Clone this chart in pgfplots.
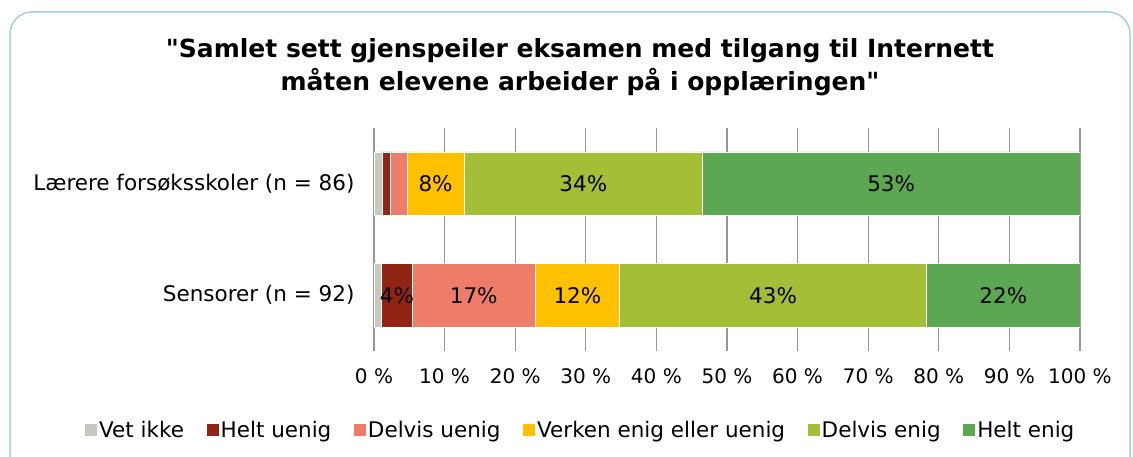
\documentclass[border=0pt]{standalone}
\usepackage{pgfplots}
\pgfplotsset{compat=1.18}
\usepackage{fontspec}
\setmainfont{DejaVu Sans}

\definecolor{vetikke}{RGB}{200,200,190}
\definecolor{heltuenig}{RGB}{146,36,22}
\definecolor{delvisuenig}{RGB}{237,125,104}
\definecolor{verken}{RGB}{255,192,0}
\definecolor{delvisenig}{RGB}{163,190,55}
\definecolor{heltenig}{RGB}{92,167,81}
\definecolor{framecol}{RGB}{160,205,240}
\definecolor{gridgray}{RGB}{150,150,150}

% y = 1: Lærere forsøksskoler (n = 86), y = 0: Sensorer (n = 92)
\pgfplotstableread{
y vet heltu delvu verken delve helte
1 1.16 1.16 2.33 8.14 33.72 53.49
0 1.09 4.35 17.39 11.96 43.48 21.73
}\svar

\begin{document}
\begin{tikzpicture}[x=1pt,y=1pt]
\useasboundingbox (0,0) rectangle (1133,457);
\draw[framecol, line width=1.5pt, rounded corners=22pt] (10,445) rectangle (1130,-30);
\node[font=\bfseries\fontsize{25}{33}\selectfont, align=center] at (580,390)
  {\textquotedbl Samlet sett gjenspeiler eksamen med tilgang til Internett\\måten elevene arbeider på i opplæringen\textquotedbl};
\begin{axis}[
  at={(374pt,106pt)}, anchor=south west,
  scale only axis, width=706pt, height=223pt,
  xbar stacked, bar width=63.5pt,
  xmin=0, xmax=100, ymin=-0.5, ymax=1.5,
  xtick={0,10,...,100},
  xticklabel={\pgfmathprintnumber{\tick} \%},
  /pgf/number format/assume math mode=true,
  ytick={0,1},
  yticklabels={Sensorer (n = 92), Lærere forsøksskoler (n = 86)},
  major tick length=0pt,
  axis line style={draw=none},
  xmajorgrids, major grid style={gridgray, line width=1.2pt},
  xticklabel style={anchor=north, yshift=-14pt, font=\fontsize{20}{24}\selectfont},
  yticklabel style={anchor=east, xshift=-16pt, font=\fontsize{21.5}{24}\selectfont},
  visualization depends on={rawx \as \rawx},
  nodes near coords={\ifdim\rawx pt<3pt\else\pgfmathprintnumber[fixed,precision=0]{\rawx}\%\fi},
  every node near coord/.append style={font=\fontsize{21.5}{24}\selectfont, black},
  legend columns=6,
  legend style={at={(0.2918,-0.354)}, anchor=center, draw=none, fill=none,
    font=\fontsize{21.5}{24}\selectfont,
    nodes={inner xsep=1.5pt},
    /tikz/every even column/.append style={column sep=20pt},
    /tikz/every odd column/.append style={column sep=0pt}},
  legend image code/.code={\fill[#1] (0pt,-6.5pt) rectangle (13pt,6.5pt);},
  every axis plot/.append style={draw=white, line width=0.6pt},
]
\addplot[fill=vetikke] table[x=vet, y=y] {\svar};
\addplot[fill=heltuenig] table[x=heltu, y=y] {\svar};
\addplot[fill=delvisuenig] table[x=delvu, y=y] {\svar};
\addplot[fill=verken] table[x=verken, y=y] {\svar};
\addplot[fill=delvisenig] table[x=delve, y=y] {\svar};
\addplot[fill=heltenig] table[x=helte, y=y] {\svar};
\legend{Vet ikke, Helt uenig, Delvis uenig, Verken enig eller uenig, Delvis enig, Helt enig}
\end{axis}
\end{tikzpicture}
\end{document}
